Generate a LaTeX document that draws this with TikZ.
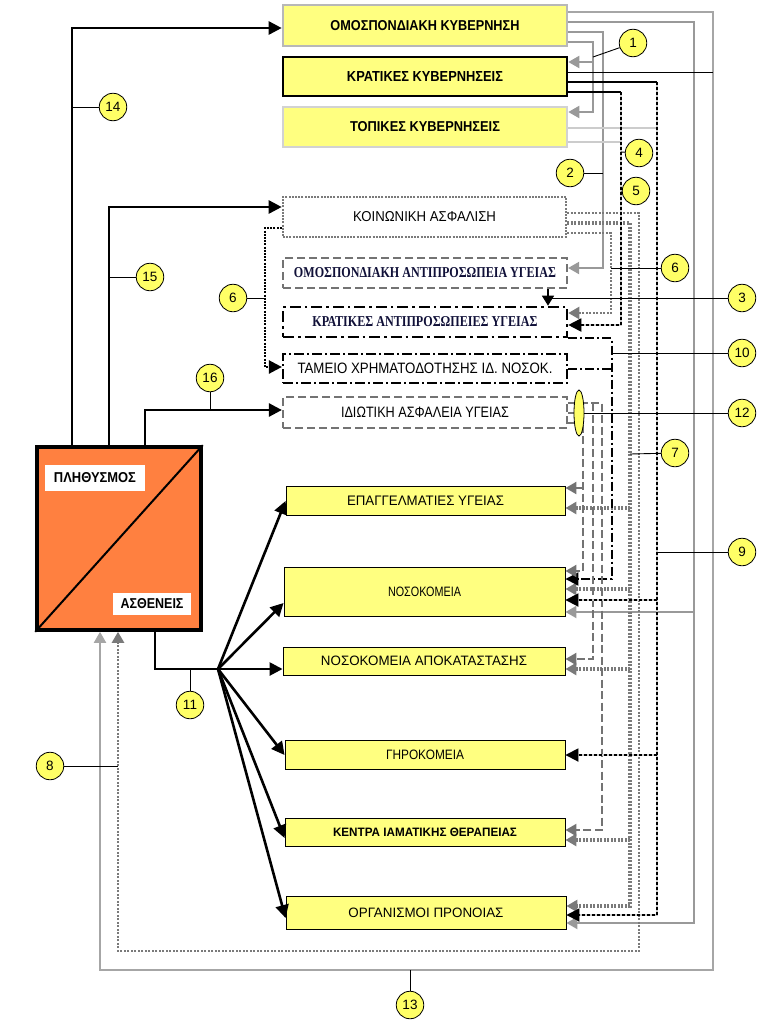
\documentclass[tikz,border=0pt]{standalone}
\usepackage{fontspec}
\usepackage{graphicx}
\setmainfont{Liberation Sans}
\newfontfamily\serifgr{Liberation Serif}
\usetikzlibrary{arrows.meta,shapes.geometric}
\definecolor{boxy}{HTML}{FFFF80}
\definecolor{circy}{HTML}{FFFF66}
\definecolor{popor}{HTML}{FF8040}
\definecolor{frameg}{HTML}{A6A6A6}
\definecolor{midg}{HTML}{999999}
\definecolor{darkg}{HTML}{7A7A7A}
\definecolor{dashg}{HTML}{737373}
\definecolor{lightg}{HTML}{CCCCCC}
\definecolor{borda}{HTML}{B8B8B8}
\definecolor{bordc}{HTML}{D2D2D2}
\definecolor{navyt}{HTML}{101038}
\newcommand\tw[3]{\resizebox{#1pt}{#2pt}{#3}}
\tikzset{
  box/.style={inner sep=0pt, fill=boxy, draw=black, line width=0.9pt},
  wbox/.style={inner sep=0pt, fill=white},
  lbl/.style={circle, draw=black, line width=0.8pt, fill=circy, minimum size=27.5pt, inner sep=0pt, font=\fontsize{13.5}{13.5}\selectfont},
  lk/.style={draw=black, line width=0.9pt},
  gtip/.style={-{Triangle[length=11pt,width=12pt]}},
  btip/.style={-{Triangle[length=13pt,width=13pt]}},
  bk/.style={draw=black, line width=2.6pt},
  fr/.style={draw=frameg, line width=2pt},
  gs/.style={draw=midg, line width=2pt},
  lg/.style={draw=lightg, line width=2pt},
  dt/.style={draw=darkg, line width=2.4pt, dash pattern=on 2pt off 1.5pt},
  dtw/.style={draw=darkg, line width=3.4pt, dash pattern=on 2pt off 1.5pt},
  ds/.style={draw=dashg, line width=2.2pt, dash pattern=on 8pt off 3.5pt},
  dd/.style={draw=black, line width=2pt, dash pattern=on 9pt off 3pt on 2pt off 3pt},
  kd/.style={draw=black, line width=2.4pt, dash pattern=on 2pt off 1.2pt},
  chk/.style={draw=black, line width=1.8pt, dash pattern=on 3pt off 2pt, preaction={draw=lightg, line width=1.8pt, solid}},
}
\begin{document}
\begin{tikzpicture}[x=1pt,y=-1pt]
\useasboundingbox[fill=white] (0,0) rectangle (774,1028);
% ---------- boxes ----------
\node[box, draw=borda, line width=2.6pt, minimum width=284pt, minimum height=41pt] (b1) at (425,25.5) {\tw{189}{10}{\bfseries ΟΜΟΣΠΟΝΔΙΑΚΗ ΚΥΒΕΡΝΗΣΗ}};
\node[box, line width=2.6pt, minimum width=284pt, minimum height=39pt] (b2) at (425,76.5) {\tw{156}{10}{\bfseries ΚΡΑΤΙΚΕΣ ΚΥΒΕΡΝΗΣΕΙΣ}};
\node[box, draw=bordc, line width=2.6pt, minimum width=284pt, minimum height=40pt] (b3) at (425,127) {\tw{150}{10}{\bfseries ΤΟΠΙΚΕΣ ΚΥΒΕΡΝΗΣΕΙΣ}};
\node[wbox, draw=darkg, line width=2.6pt, dash pattern=on 2pt off 1.2pt, minimum width=283pt, minimum height=40pt] (b4) at (424.5,217) {\tw{143}{10}{ΚΟΙΝΩΝΙΚΗ ΑΣΦΑΛΙΣΗ}};
\node[wbox, draw=dashg, line width=2.2pt, dash pattern=on 8pt off 4pt, minimum width=284pt, minimum height=30pt] (b5) at (425,273) {\tw{262}{10}{\serifgr\bfseries\color{navyt}ΟΜΟΣΠΟΝΔΙΑΚΗ ΑΝΤΙΠΡΟΣΩΠΕΙΑ ΥΓΕΙΑΣ}};
\node[wbox, draw=black, line width=2.6pt, dash pattern=on 11pt off 4pt on 2.5pt off 4pt, minimum width=284pt, minimum height=30pt] (b6) at (425,322) {\tw{225}{10}{\serifgr\bfseries\color{navyt}ΚΡΑΤΙΚΕΣ ΑΝΤΙΠΡΟΣΩΠΕΙΕΣ ΥΓΕΙΑΣ}};
\node[wbox, draw=black, line width=2.2pt, dash pattern=on 10pt off 3pt on 2pt off 3pt, minimum width=284pt, minimum height=29pt] (b7) at (425,368.5) {\tw{255}{10.5}{ΤΑΜΕΙΟ ΧΡΗΜΑΤΟΔΟΤΗΣΗΣ ΙΔ. ΝΟΣΟΚ.}};
\node[wbox, draw=dashg, line width=2.2pt, dash pattern=on 8pt off 4pt, minimum width=284pt, minimum height=31pt] (b8) at (425,412.5) {\tw{168}{10.5}{ΙΔΙΩΤΙΚΗ ΑΣΦΑΛΕΙΑ ΥΓΕΙΑΣ}};
\node[box, minimum width=279pt, minimum height=29pt] (b9) at (425.5,500.5) {\tw{157}{9.5}{ΕΠΑΓΓΕΛΜΑΤΙΕΣ ΥΓΕΙΑΣ}};
\node[box, minimum width=281pt, minimum height=49pt] (b10) at (424.5,591.5) {\tw{73}{9.5}{ΝΟΣΟΚΟΜΕΙΑ}};
\node[box, minimum width=282pt, minimum height=28pt] (b11) at (424,661) {\tw{206}{9.5}{ΝΟΣΟΚΟΜΕΙΑ ΑΠΟΚΑΤΑΣΤΑΣΗΣ}};
\node[box, minimum width=280pt, minimum height=29pt] (b12) at (425,754.5) {\tw{78}{9.5}{ΓΗΡΟΚΟΜΕΙΑ}};
\node[box, minimum width=280pt, minimum height=28pt] (b13) at (425,832) {\tw{184}{8.5}{\bfseries ΚΕΝΤΡΑ ΙΑΜΑΤΙΚΗΣ ΘΕΡΑΠΕΙΑΣ}};
\node[box, minimum width=280pt, minimum height=33pt] (b14) at (426,912.5) {\tw{155}{9.5}{ΟΡΓΑΝΙΣΜΟΙ ΠΡΟΝΟΙΑΣ}};
% ---------- population ----------
\node[draw=black, line width=3.6pt, fill=popor, minimum width=164pt, minimum height=183pt, inner sep=0pt] (pop) at (119,538.5) {};
\draw[line width=2pt] (pop.south west) -- (pop.north east);
\node[wbox, minimum width=100pt, minimum height=26pt] (tp) at (95,478) {\tw{82}{10}{\bfseries ΠΛΗΘΥΣΜΟΣ}};
\node[wbox, minimum width=78pt, minimum height=22pt] (ta) at (152,604) {\tw{63}{10}{\bfseries ΑΣΘΕΝΕΙΣ}};
% ---------- population outputs ----------
\draw[bk, btip] (pop.north -| 72,0) |- (b1.west |- 0,28);
\draw[bk, btip] (pop.north -| 109,0) |- (b4.west |- 0,207);
\draw[bk, btip] (pop.north -| 145,0) |- (b8.west |- 0,410);
\coordinate (fan) at (218,669);
\draw[bk, btip] (pop.south -| 155,0) |- (b11.west |- 0,669);
\draw[bk, btip] (fan) -- (b9.west |- 0,501);
\draw[bk, btip] (fan) -- (b10.west |- 0,603);
\draw[bk, btip] (fan) -- (b12.west |- 0,755);
\draw[bk, btip] (fan) -- (b13.west |- 0,838);
\draw[bk, btip] (fan) -- (b14.west |- 0,918);
% ---------- government lines ----------
\draw[fr, gtip] (b1.east |- 0,12) -| (713,970) -| (pop.south -| 100,0);
\draw[gs, gtip] (b1.east |- 0,22) -| (694,923) -- (b14.east |- 0,923);
\draw[gs, gtip] (694,612) -- (b10.east |- 0,612);
\draw[gs, gtip] (b1.east |- 0,32) -| (603,268) -- (b5.east |- 0,268);
\draw[gs, gtip] (b1.east |- 0,42) -| (593,112) -- (b3.east |- 0,112);
\draw[gs, gtip] (593,62) -- (b2.east |- 0,62);
\draw[lg] (b3.east |- 0,128) -- (657,128);
\draw[lg] (b3.east |- 0,142) -- (621,142);
\draw[draw=black, line width=1pt] (b2.east |- 0,72) -- (713,72);
\draw[draw=black, line width=1.5pt] (b2.east |- 0,82) -- (657,82);
\draw[draw=black, line width=1.5pt] (b2.east |- 0,92) -- (621,92);
% ---------- social insurance ----------
\draw[dt, gtip] (b4.east |- 0,213) -| (639,951) -| (pop.south -| 118,0);
\draw[dtw, gtip] (b4.east |- 0,223) -| (630,906) -- (b14.east |- 0,906);
\draw[dtw, gtip] (630,508) -- (b9.east |- 0,508);
\draw[dtw, gtip] (630,589) -- (b10.east |- 0,589);
\draw[dtw, gtip] (630,669) -- (b11.east |- 0,669);
\draw[dtw, gtip] (630,840) -- (b13.east |- 0,840);
\draw[dt, gtip] (b4.east |- 0,233) -| (611,313) -- (b6.east |- 0,313);
\draw[kd, btip] (b4.west |- 0,228) -| (265,367) -- (b7.west |- 0,367);
% ---------- state agencies ----------
\draw[dd, btip] (b6.south east) -| (612,579) -- (b10.east |- 0,579);
\draw[dd] (b7.east) -- (612,368.5);
\draw[draw=black, line width=1.2pt, -{Triangle[length=10pt,width=12pt]}] (b5.south -| 548,0) -- (b6.north -| 548,0);
% ---------- private insurance ----------
\draw[ds] (b8.east |- 0,423) -- (580,423);
\draw[ds] (b8.east |- 0,413) -- (583,413);
\draw[ds, gtip] (b8.east |- 0,403) -| (602,830) -- (b13.east |- 0,830);
\draw[ds, gtip] (593,403) |- (b11.east |- 0,659);
\draw[ds, gtip] (583,413) |- (b10.east |- 0,571);
\draw[ds, gtip] (583,488) -- (b9.east |- 0,488);
\node[ellipse, draw=black, line width=0.8pt, fill=circy, minimum width=10pt, minimum height=46pt, inner sep=0pt] (el) at (579,413) {};
% ---------- state governments dashed ----------
\draw[chk, btip] (621,92) |- (b6.east |- 0,325);
\draw[chk, btip] (657,82) |- (b14.east |- 0,915);
\draw[chk, btip] (657,600) -- (b10.east |- 0,600);
\draw[chk, btip] (657,755) -- (b12.east |- 0,755);
% ---------- labels ----------
\node[lbl] (c1) at (633,43) {1};
\node[lbl] (c2) at (570,173) {2};
\node[lbl] (c3) at (742,298) {3};
\node[lbl] (c4) at (639,153) {4};
\node[lbl] (c5) at (636,191) {5};
\node[lbl] (c6r) at (675,268) {6};
\node[lbl] (c6l) at (233,298) {6};
\node[lbl] (c7) at (675,453) {7};
\node[lbl] (c8) at (50,766) {8};
\node[lbl] (c9) at (742,552) {9};
\node[lbl] (c10) at (742,353) {10};
\node[lbl] (c11) at (190,705) {11};
\node[lbl] (c12) at (742,413) {12};
\node[lbl] (c13) at (410,1005) {13};
\node[lbl] (c14) at (113,107) {14};
\node[lbl] (c15) at (150,277) {15};
\node[lbl] (c16) at (210,378) {16};
\draw[lk] (c1) -- (593,57);
\draw[lk] (c2) -- (603,173);
\draw[lk] (548,298) -- (c3);
\draw[lk] (621,152) -- (c4);
\draw[lk] (621,192) -- (c5);
\draw[lk] (611,268) -- (c6r);
\draw[lk] (c6l) -- (265,298);
\draw[lk] (630,454) -- (c7);
\draw[lk] (c8) -- (118,766);
\draw[lk] (657,552) -- (c9);
\draw[lk] (612,353) -- (c10);
\draw[lk] (c11) -- (190,669);
\draw[lk] (el) -- (c12);
\draw[lk] (c13) -- (410,970);
\draw[lk] (72,107) -- (c14);
\draw[lk] (109,277) -- (c15);
\draw[lk] (c16) -- (210,410);
\end{tikzpicture}
\end{document}
